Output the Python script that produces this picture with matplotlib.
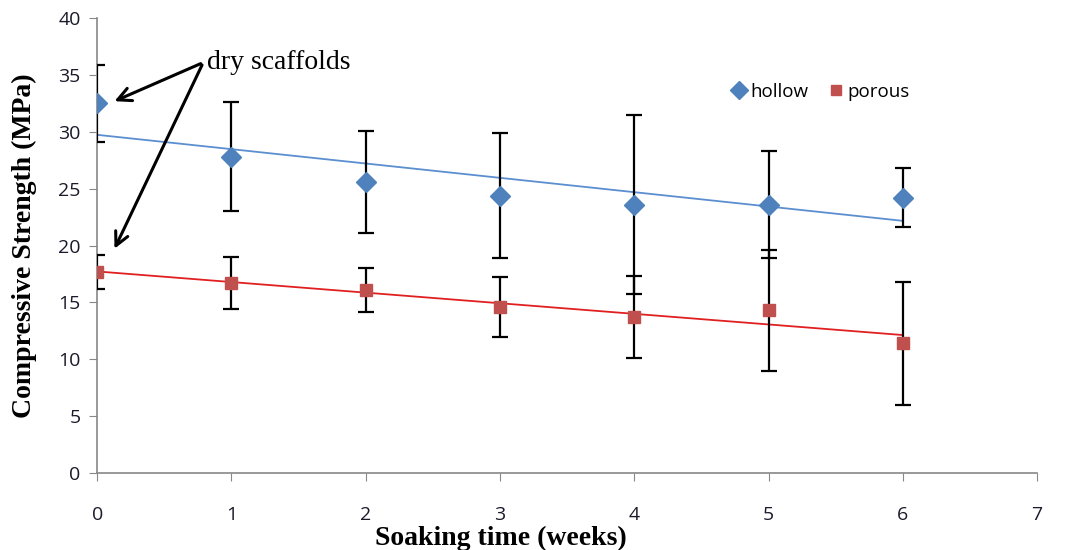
import numpy as np
import matplotlib
matplotlib.use("Agg")
import matplotlib.pyplot as plt
from matplotlib.lines import Line2D

# data
weeks = [0, 1, 2, 3, 4, 5, 6]
hollow = [32.5, 27.8, 25.6, 24.4, 23.6, 23.6, 24.2]
hollow_err = [3.4, 4.8, 4.5, 5.5, 7.9, 4.7, 2.6]
porous = [17.7, 16.7, 16.1, 14.6, 13.7, 14.3, 11.4]
porous_err = [1.5, 2.3, 1.9, 2.6, 3.6, 5.3, 5.4]

blue = '#4F81BD'
red = '#C0504D'

fig = plt.figure(figsize=(10.68, 5.5), dpi=100)
ax = fig.add_axes([0.091, 0.14, 0.880, 0.827])

# linear trend lines
x = np.array(weeks)
for vals, col in [(hollow, '#5B8FD0'), (porous, '#E02020')]:
    k, b = np.polyfit(x, vals, 1)
    ax.plot(x, k * x + b, color=col, lw=1.3, zorder=2)

ax.errorbar(weeks, hollow, yerr=hollow_err, fmt='D', color=blue, ms=10,
            ecolor='black', elinewidth=1.6, capsize=6, capthick=1.6, zorder=3)
ax.errorbar(weeks, porous, yerr=porous_err, fmt='s', color=red, ms=8,
            ecolor='black', elinewidth=1.6, capsize=6, capthick=1.6, zorder=3)

ax.set_xlim(0, 7)
ax.set_ylim(0, 40)
ax.set_xticks(range(0, 8))
ax.set_yticks(range(0, 41, 5))

for s in ['top', 'right']:
    ax.spines[s].set_visible(False)
for s in ['left', 'bottom']:
    ax.spines[s].set_color('#888888')
    ax.spines[s].set_linewidth(1.2)
ax.tick_params(axis='both', direction='out', length=6, color='#888888',
               labelsize=14, labelcolor='#1a1a2a')
ax.tick_params(axis='x', pad=18)
ax.tick_params(axis='y', pad=6)
for lab in ax.get_xticklabels() + ax.get_yticklabels():
    lab.set_family('Open Sans')

serif = {'family': 'Liberation Serif', 'weight': 'bold', 'size': 20}
ax.set_xlabel('Soaking time (weeks)', fontdict=serif, va='center')
ax.set_ylabel('Compressive Strength (MPa)', fontdict=serif, va='center')
ax.xaxis.set_label_coords(0.43, -0.143)
ax.yaxis.set_label_coords(-0.077, 0.5)

# annotation
ax.text(0.82, 36.1, 'dry scaffolds', family='Liberation Serif', fontsize=20,
        va='center', ha='left')
for tx, ty in [(0.11, 32.6), (0.12, 19.5)]:
    ax.annotate('', xy=(tx, ty), xytext=(0.79, 36.1),
                arrowprops=dict(arrowstyle='->', lw=2.2, color='black',
                                mutation_scale=24))

handles = [Line2D([], [], ls='none', marker='D', color=blue, ms=9),
           Line2D([], [], ls='none', marker='s', color=red, ms=7)]
ax.legend(handles, ['hollow', 'porous'], loc='upper left',
          bbox_to_anchor=(0.655, 0.895), ncol=2, frameon=False,
          handletextpad=0.1, columnspacing=1.0, handlelength=1.0,
          prop={'family': 'Open Sans', 'size': 13.5})

fig.savefig('out.png', dpi=100)
